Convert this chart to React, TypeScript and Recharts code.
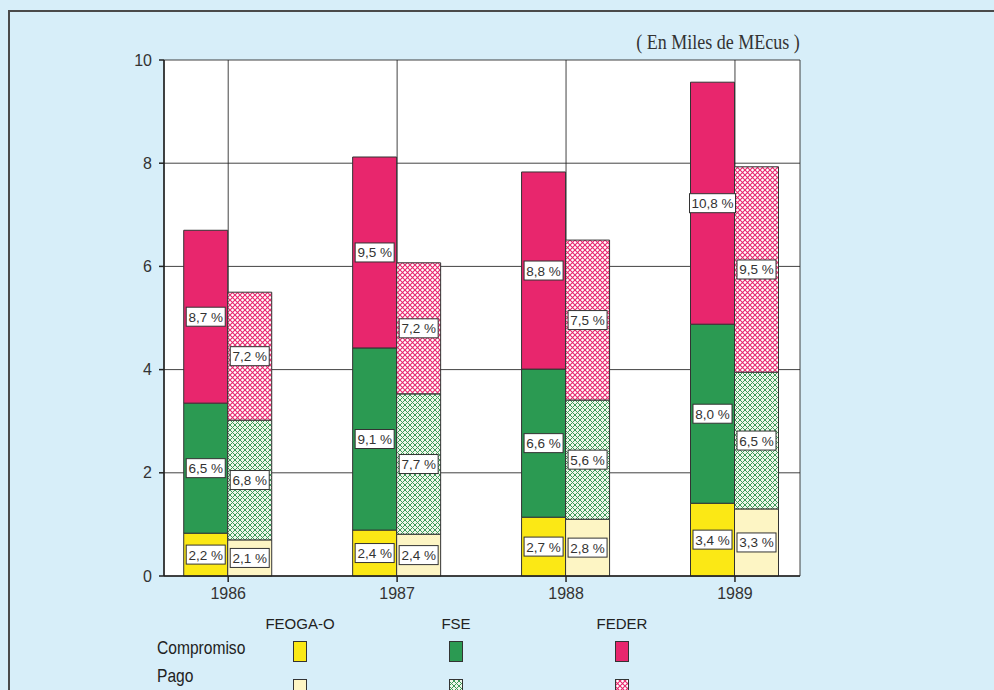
import React from "react";
import {
  BarChart,
  Bar,
  XAxis,
  YAxis,
  CartesianGrid,
  LabelList,
} from "recharts";

// values in miles de MEcus
const years = [1986, 1987, 1988, 1989];
const compFeoga = [0.83, 0.89, 1.14, 1.41];
const compFse = [2.52, 3.53, 2.87, 3.47];
const compFeder = [3.35, 3.7, 3.82, 4.69];
const pagoFeoga = [0.7, 0.81, 1.1, 1.3];
const pagoFse = [2.32, 2.72, 2.31, 2.65];
const pagoFeder = [2.48, 2.54, 3.1, 3.98];

// percentage labels printed in the boxes
const compFeogaLbl = ["2,2 %", "2,4 %", "2,7 %", "3,4 %"];
const compFseLbl = ["6,5 %", "9,1 %", "6,6 %", "8,0 %"];
const compFederLbl = ["8,7 %", "9,5 %", "8,8 %", "10,8 %"];
const pagoFeogaLbl = ["2,1 %", "2,4 %", "2,8 %", "3,3 %"];
const pagoFseLbl = ["6,8 %", "7,7 %", "5,6 %", "6,5 %"];
const pagoFederLbl = ["7,2 %", "7,2 %", "7,5 %", "9,5 %"];

const yTicks = [0, 2, 4, 6, 8, 10];

const data = years.map((year, i) => ({
  year,
  cFeoga: compFeoga[i],
  cFse: compFse[i],
  cFeder: compFeder[i],
  pFeoga: pagoFeoga[i],
  pFse: pagoFse[i],
  pFeder: pagoFeder[i],
  cFeogaLbl: compFeogaLbl[i],
  cFseLbl: compFseLbl[i],
  cFederLbl: compFederLbl[i],
  pFeogaLbl: pagoFeogaLbl[i],
  pFseLbl: pagoFseLbl[i],
  pFederLbl: pagoFederLbl[i],
}));

const YELLOW = "#fbe815";
const GREEN = "#2b9a52";
const PINK = "#e8266d";
const PALE_YELLOW = "#fdf5c4";
const FONT = "'Liberation Sans', Arial, sans-serif";

const BoxLabel = (props: any) => {
  const { x, y, width, height, value } = props;
  if (value == null) return null;
  const text = String(value);
  const w = text.length * 7 + 4;
  const h = 19;
  const cx = Number(x) + Number(width) / 2;
  const cy = Number(y) + Number(height) / 2;
  return (
    <g>
      <rect
        x={cx - w / 2}
        y={cy - h / 2}
        width={w}
        height={h}
        fill="#fff"
        stroke="#333"
        strokeWidth={1}
      />
      <text
        x={cx}
        y={cy + 5}
        textAnchor="middle"
        fontSize={13.5}
        fontFamily={FONT}
        fill="#333"
      >
        {text}
      </text>
    </g>
  );
};

const Patterns = () => (
  <defs>
    <pattern id="hatchGreen" width="5" height="5" patternUnits="userSpaceOnUse">
      <rect width="5" height="5" fill="#eef7ea" />
      <path d="M0,0 L5,5 M5,0 L0,5" stroke="#3d9a58" strokeWidth="1" />
    </pattern>
    <pattern id="hatchPink" width="5" height="5" patternUnits="userSpaceOnUse">
      <rect width="5" height="5" fill="#fff" />
      <path d="M0,0 L5,5 M5,0 L0,5" stroke="#e8266d" strokeWidth="1.1" />
    </pattern>
  </defs>
);

const legendCols = [
  { name: "FEOGA-O", x: 300, solid: YELLOW, hatch: PALE_YELLOW },
  { name: "FSE", x: 456, solid: GREEN, hatch: "url(#hatchGreen)" },
  { name: "FEDER", x: 622, solid: PINK, hatch: "url(#hatchPink)" },
];

const rowLabel: React.CSSProperties = {
  position: "absolute",
  left: 157,
  fontSize: 19,
  color: "#222",
  transform: "scaleX(0.82)",
  transformOrigin: "left center",
};

export default function App() {
  return (
    <div
      style={{
        position: "absolute",
        left: 0,
        top: 0,
        width: 994,
        height: 690,
        background: "#d7eef9",
        overflow: "hidden",
        fontFamily: FONT,
      }}
    >
      <div
        style={{
          position: "absolute",
          left: 8,
          top: 10,
          width: 1000,
          height: 700,
          borderTop: "2px solid #4a4a4a",
          borderLeft: "2px solid #4a4a4a",
        }}
      />
      <div
        style={{
          position: "absolute",
          right: 194,
          top: 31,
          fontFamily: "'Liberation Serif', 'Times New Roman', serif",
          fontSize: 20,
          color: "#333",
          transform: "scaleX(0.9)",
          transformOrigin: "right center",
        }}
      >
        ( En Miles de MEcus )
      </div>
      <div style={{ position: "absolute", left: 0, top: 0 }}>
        <BarChart
          width={994}
          height={690}
          data={data}
          margin={{ top: 60, right: 194, bottom: 84, left: 104 }}
          barGap={0}
        >
          <Patterns />
          <CartesianGrid
            fill="#fff"
            stroke="#222"
            strokeWidth={1}
            strokeOpacity={0.85}
          />
          <XAxis
            dataKey="year"
            type="number"
            domain={[1985.62, 1989.385]}
            ticks={years}
            allowDataOverflow
            height={30}
            tickSize={6}
            tickMargin={6}
            axisLine={{ stroke: "#222", strokeWidth: 1.5 }}
            tickLine={{ stroke: "#222", strokeWidth: 1.5 }}
            tick={{ fontSize: 16, fill: "#333", fontFamily: FONT }}
          />
          <YAxis
            domain={[0, 10]}
            ticks={yTicks}
            width={60}
            tickSize={5}
            tickMargin={7}
            axisLine={{ stroke: "#222", strokeWidth: 1.5 }}
            tickLine={{ stroke: "#222", strokeWidth: 1.5 }}
            tick={{ fontSize: 16, fill: "#333", fontFamily: FONT }}
          />
          <YAxis
            yAxisId="r"
            orientation="right"
            domain={[0, 10]}
            width={0}
            tick={false}
            tickLine={false}
            axisLine={{ stroke: "#222", strokeWidth: 1.5 }}
          />
          <Bar dataKey="cFeoga" stackId="c" barSize={44} fill={YELLOW} stroke="#333" strokeWidth={1} isAnimationActive={false}>
            <LabelList dataKey="cFeogaLbl" content={BoxLabel} />
          </Bar>
          <Bar dataKey="cFse" stackId="c" barSize={44} fill={GREEN} stroke="#333" strokeWidth={1} isAnimationActive={false}>
            <LabelList dataKey="cFseLbl" content={BoxLabel} />
          </Bar>
          <Bar dataKey="cFeder" stackId="c" barSize={44} fill={PINK} stroke="#333" strokeWidth={1} isAnimationActive={false}>
            <LabelList dataKey="cFederLbl" content={BoxLabel} />
          </Bar>
          <Bar dataKey="pFeoga" stackId="p" barSize={44} fill={PALE_YELLOW} stroke="#333" strokeWidth={1} isAnimationActive={false}>
            <LabelList dataKey="pFeogaLbl" content={BoxLabel} />
          </Bar>
          <Bar dataKey="pFse" stackId="p" barSize={44} fill="url(#hatchGreen)" stroke="#333" strokeWidth={1} isAnimationActive={false}>
            <LabelList dataKey="pFseLbl" content={BoxLabel} />
          </Bar>
          <Bar dataKey="pFeder" stackId="p" barSize={44} fill="url(#hatchPink)" stroke="#333" strokeWidth={1} isAnimationActive={false}>
            <LabelList dataKey="pFederLbl" content={BoxLabel} />
          </Bar>
        </BarChart>
      </div>
      {/* legend */}
      <div style={{ ...rowLabel, top: 637 }}>Compromiso</div>
      <div style={{ ...rowLabel, top: 665 }}>Pago</div>
      {legendCols.map((c) => (
        <React.Fragment key={c.name}>
          <div
            style={{
              position: "absolute",
              left: c.x - 60,
              width: 120,
              top: 615,
              textAlign: "center",
              fontSize: 15,
              color: "#222",
            }}
          >
            {c.name}
          </div>
          <svg
            style={{ position: "absolute", left: c.x - 7, top: 641 }}
            width={15}
            height={50}
          >
            <rect x={0.5} y={0.5} width={13} height={20} fill={c.solid} stroke="#333" />
            <rect x={0.5} y={38.5} width={13} height={20} fill={c.hatch} stroke="#333" />
          </svg>
        </React.Fragment>
      ))}
    </div>
  );
}
